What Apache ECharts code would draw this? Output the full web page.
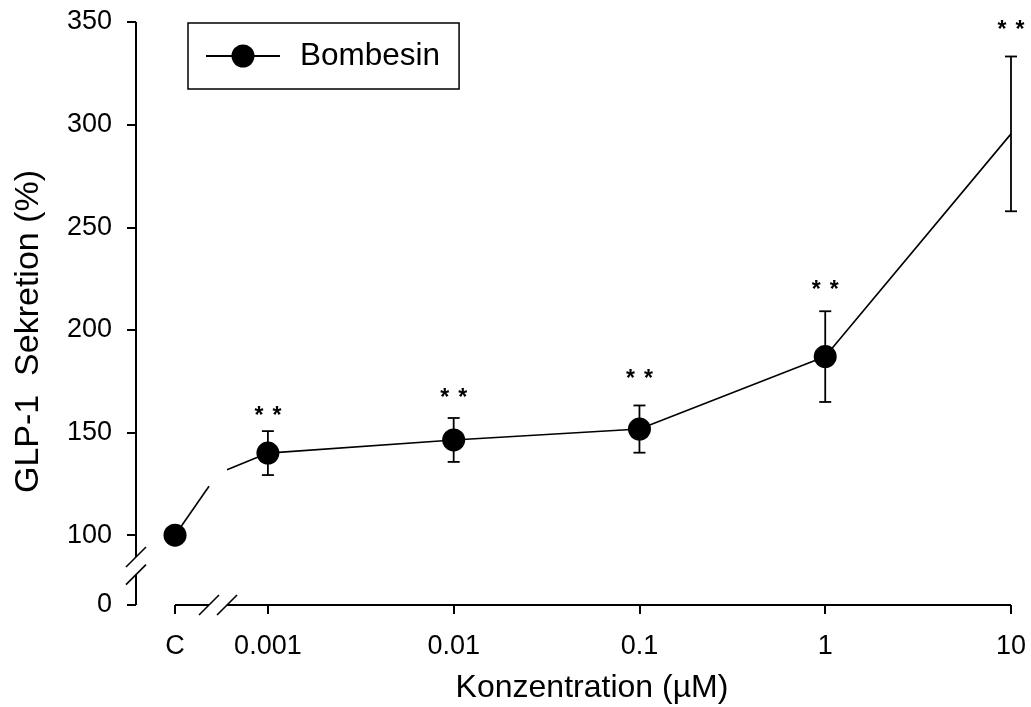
<!DOCTYPE html>
<html>
<head>
<meta charset="utf-8">
<script src="https://cdn.jsdelivr.net/npm/echarts@6/dist/echarts.min.js"></script>
<style>
html,body{margin:0;padding:0;background:#fff;}
#chart{width:1031px;height:707px;}
</style>
</head>
<body>
<div id="chart"></div>
<script>
// ---- data ----
const categories = ['C', '0.001', '0.01', '0.1', '1', '10'];
const xPositions = [-0.5, 0, 1, 2, 3, 4];           // log10(conc/0.001); C placed half a decade left
const means = [100, 140, 146.4, 151.7, 187.0, 295.5];
const errors = [0, 10.7, 10.7, 11.5, 22.1, 37.7];
const showMarker = [true, true, true, true, true, false];
const starValues = [null, 160.5, 169.4, 178.5, 221.9, 348.5];
const yTickValues = [0, 100, 150, 200, 250, 300, 350];
const seriesName = 'Bombesin';

// ---- axis break settings (data space) ----
const yZeroDisplay = 66;           // where "0" sits on the broken axis
const yMax = 350;
const yBreak = [80.8, 89.4];       // gap in the y axis line
const xMin = -0.71, xMax = 4;
const xBreak = [-0.317, -0.22];    // gap in the x axis line / connecting line
const lineKnee = [-0.27, 130];     // where the C segment turns across the break

const FONT = '"Liberation Sans", Arial, Helvetica, sans-serif';
const dispY = v => (v === 0 ? yZeroDisplay : v);
const yTickDisplay = yTickValues.map(dispY);

function interp(p, q, x) {
  const t = (x - p[0]) / (q[0] - p[0]);
  return p[1] + t * (q[1] - p[1]);
}
const pC = [xPositions[0], means[0]];
const p1 = [xPositions[1], means[1]];
const gapStart = [xBreak[0], interp(pC, lineKnee, xBreak[0])];
const gapEnd = [xBreak[1], interp(lineKnee, p1, xBreak[1])];

const mainData = [{ value: gapEnd, symbol: 'none' }];
for (let i = 1; i < xPositions.length; i++) {
  const item = { value: [xPositions[i], means[i]] };
  if (!showMarker[i]) item.symbol = 'none';
  mainData.push(item);
}
const cData = [{ value: pC }, { value: gapStart, symbol: 'none' }];

const errData = [];
for (let i = 0; i < xPositions.length; i++) {
  if (errors[i] > 0) errData.push([xPositions[i], means[i] - errors[i], means[i] + errors[i]]);
}
const starData = [];
for (let i = 0; i < xPositions.length; i++) {
  if (starValues[i] != null) starData.push([xPositions[i], starValues[i]]);
}

const chart = echarts.init(document.getElementById('chart'), null, { renderer: 'canvas' });
const option = {
  animation: false,
  backgroundColor: '#fff',
  grid: { left: 136, right: 20, top: 22, bottom: 102, containLabel: false },
  xAxis: {
    type: 'value', min: xMin, max: xMax,
    axisLine: { show: false, onZero: false },
    splitLine: { show: false },
    axisTick: { show: true, length: 9, customValues: xPositions, lineStyle: { color: '#000', width: 2 } },
    axisLabel: {
      customValues: xPositions, margin: 28, color: '#000', fontSize: 27, fontFamily: FONT,
      formatter: v => { const i = xPositions.findIndex(p => Math.abs(p - v) < 1e-6); return i >= 0 ? categories[i] : ''; }
    }
  },
  yAxis: {
    type: 'value', min: yZeroDisplay, max: yMax,
    axisLine: { show: false, onZero: false },
    splitLine: { show: false },
    axisTick: { show: true, length: 9, customValues: yTickDisplay, lineStyle: { color: '#000', width: 2 } },
    axisLabel: {
      customValues: yTickDisplay, margin: 24, color: '#000', fontSize: 27, fontFamily: FONT,
      formatter: v => { const i = yTickDisplay.findIndex(p => Math.abs(p - v) < 1e-6); return i >= 0 ? String(yTickValues[i]) : ''; }
    }
  },
  legend: {
    data: [seriesName], left: 188, top: 23, orient: 'horizontal',
    borderColor: '#000', borderWidth: 1.5, padding: [17, 19, 17, 17],
    itemWidth: 74, itemHeight: 28.75,
    textStyle: { fontSize: 31.5, fontFamily: FONT, color: '#000', padding: [0, 0, 0, 15] }
  },
  graphic: [
    { type: 'text', x: 29, y: 331.5, rotation: Math.PI / 2,
      style: { text: 'GLP-1  Sekretion (%)', font: '34px ' + FONT, fill: '#000', align: 'center', verticalAlign: 'middle' } },
    { type: 'text', x: 592, y: 688,
      style: { text: 'Konzentration (µM)', font: '32px ' + FONT, fill: '#000', align: 'center', verticalAlign: 'middle' } }
  ],
  series: [
    {
      type: 'custom', name: 'axes', silent: true, clip: false, z: 1,
      data: [[0]],
      renderItem: (params, api) => {
        const c = (x, y) => api.coord([x, y]);
        const seg = (a, b, w) => ({ type: 'line', shape: { x1: a[0], y1: a[1], x2: b[0], y2: b[1] }, style: { stroke: '#000', lineWidth: w || 2 } });
        const slant = (p) => seg([p[0] - 10, p[1] + 10], [p[0] + 10, p[1] - 10], 1.6);
        const yTop = c(xMin, yMax), yB1 = c(xMin, yBreak[1]), yB0 = c(xMin, yBreak[0]), yBot = c(xMin, yZeroDisplay);
        const xL = c(xPositions[0], yZeroDisplay), xB0 = c(xBreak[0], yZeroDisplay), xB1 = c(xBreak[1], yZeroDisplay), xR = c(xMax, yZeroDisplay);
        return { type: 'group', children: [
          seg(yTop, yB1), seg(yB0, yBot), slant(yB1), slant(yB0),
          seg(xL, xB0), seg(xB1, xR), slant(xB0), slant(xB1)
        ] };
      }
    },
    {
      type: 'custom', name: 'errors', silent: true, clip: false, z: 2,
      data: errData,
      renderItem: (params, api) => {
        const lo = api.coord([api.value(0), api.value(1)]);
        const hi = api.coord([api.value(0), api.value(2)]);
        const s = { stroke: '#000', lineWidth: 1.8 };
        return { type: 'group', children: [
          { type: 'line', shape: { x1: lo[0], y1: lo[1], x2: hi[0], y2: hi[1] }, style: s },
          { type: 'line', shape: { x1: lo[0] - 6, y1: lo[1], x2: lo[0] + 6, y2: lo[1] }, style: s },
          { type: 'line', shape: { x1: hi[0] - 6, y1: hi[1], x2: hi[0] + 6, y2: hi[1] }, style: s }
        ] };
      }
    },
    {
      type: 'line', name: 'Csegment', data: cData, z: 3,
      symbol: 'circle', symbolSize: 23, showSymbol: true,
      lineStyle: { color: '#000', width: 1.6 }, itemStyle: { color: '#000' }
    },
    {
      type: 'line', name: seriesName, data: mainData, z: 3,
      symbol: 'circle', symbolSize: 23, showSymbol: true,
      lineStyle: { color: '#000', width: 1.6 }, itemStyle: { color: '#000' }
    },
    {
      type: 'custom', name: 'stars', silent: true, clip: false, z: 4,
      data: starData,
      renderItem: (params, api) => {
        const p = api.coord([api.value(0), api.value(1)]);
        const star = dx => ({ type: 'text', x: p[0] + dx, y: p[1] + 6,
          style: { text: '*', font: 'bold 23px ' + FONT, fill: '#000', align: 'center', verticalAlign: 'middle' } });
        return { type: 'group', children: [star(-9), star(9)] };
      }
    }
  ]
};
chart.setOption(option);
</script>
</body>
</html>
